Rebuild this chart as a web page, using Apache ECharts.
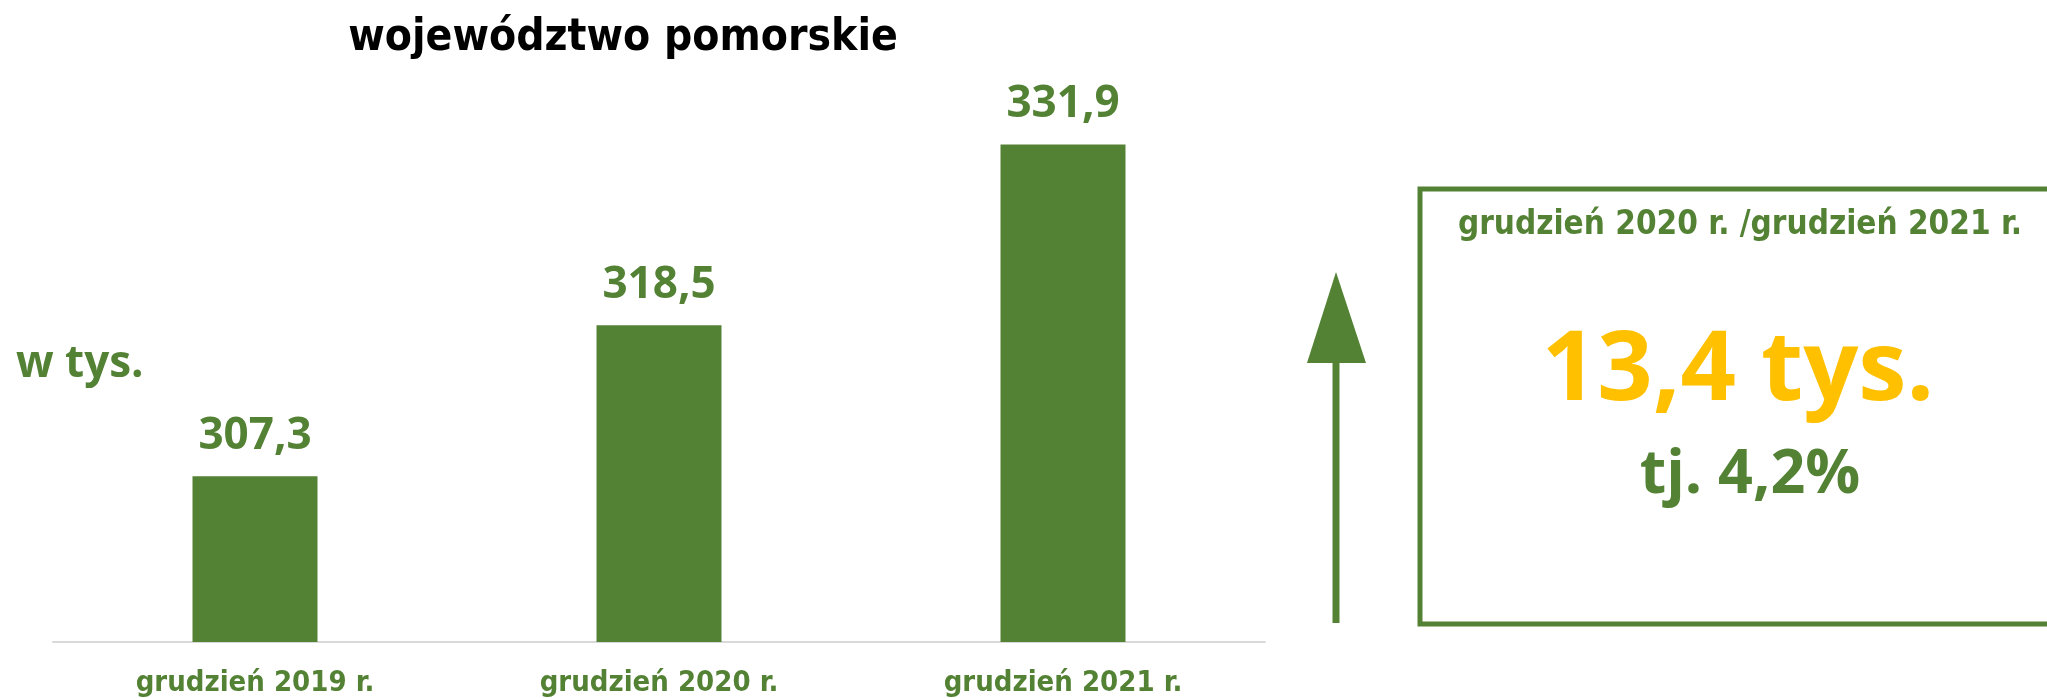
<!DOCTYPE html>
<html><head><meta charset="utf-8">
<script src="https://cdn.jsdelivr.net/npm/echarts@6/dist/echarts.min.js"></script>
<style>html,body{margin:0;padding:0;background:#fff}#c{width:2047px;height:698px}</style>
</head><body><div id="c"></div>
<script>
const categories = ['grudzień 2019 r.', 'grudzień 2020 r.', 'grudzień 2021 r.'];
const values = [307.3, 318.5, 331.9];
const titleText = 'województwo pomorskie';
const unitText = 'w tys.';
const compareText = 'grudzień 2020 r. /grudzień 2021 r.';

const GREEN = '#548235', YELLOW = '#FFC000';
const COND = "'Liberation Sans Narrow','DejaVu Sans Condensed','Roboto Condensed','Noto Sans'";
const BOLD = "'Open Sans','Noto Sans',sans-serif";
const fmt = (v, d) => v.toFixed(d).replace('.', ',');
const diff = values[2] - values[1];
const pct = diff / values[1] * 100;

const chart = echarts.init(document.getElementById('c'));
chart.setOption({
  animation: false,
  title: { text: titleText, left: 618, top: 12, textAlign: 'center',
    textStyle: { fontFamily: COND, fontWeight: 'bold', fontSize: 44, color: '#000' } },
  grid: { left: 53, right: 782, top: 35.4, bottom: 56, containLabel: false, outerBoundsMode: 'none' },
  xAxis: { type: 'category', data: categories,
    axisLine: { lineStyle: { color: '#d9d9d9', width: 2 } },
    axisTick: { show: false },
    axisLabel: { margin: 27, color: GREEN, fontFamily: COND, fontWeight: 'bold', fontSize: 29, lineHeight: 29 } },
  yAxis: { type: 'value', min: 295, max: 340, show: false, splitLine: { show: false } },
  series: [{ type: 'bar', data: values, barWidth: 125,
    itemStyle: { color: GREEN },
    label: { show: true, position: 'top', distance: 18, color: GREEN, fontFamily: BOLD, fontWeight: 'bold',
      fontSize: 44, lineHeight: 44, formatter: p => fmt(p.value, 1) } }],
  graphic: [
    { type: 'text', left: 16, top: 342, style: { text: unitText, fill: GREEN, font: "bold 44px " + BOLD } },
    { type: 'rect', shape: { x: 1332.5, y: 360, width: 7, height: 263 }, style: { fill: GREEN } },
    { type: 'polygon', shape: { points: [[1336, 272], [1366, 363], [1307, 363]] }, style: { fill: GREEN } },
    { type: 'rect', shape: { x: 1420, y: 189, width: 660, height: 435 }, style: { fill: 'none', stroke: GREEN, lineWidth: 5 } },
    { type: 'text', x: 1740, y: 225, style: { text: compareText, fill: GREEN, font: "bold 33px " + COND, textAlign: 'center', textVerticalAlign: 'middle' } },
    { type: 'text', x: 1738, y: 372, style: { text: fmt(diff, 1) + ' tys.', fill: YELLOW, font: "bold 97px " + BOLD, textAlign: 'center', textVerticalAlign: 'middle' } },
    { type: 'text', x: 1750, y: 476, style: { text: 'tj. ' + fmt(pct, 1) + '%', fill: GREEN, font: "bold 61px " + BOLD, textAlign: 'center', textVerticalAlign: 'middle' } }
  ]
});
</script></body></html>
